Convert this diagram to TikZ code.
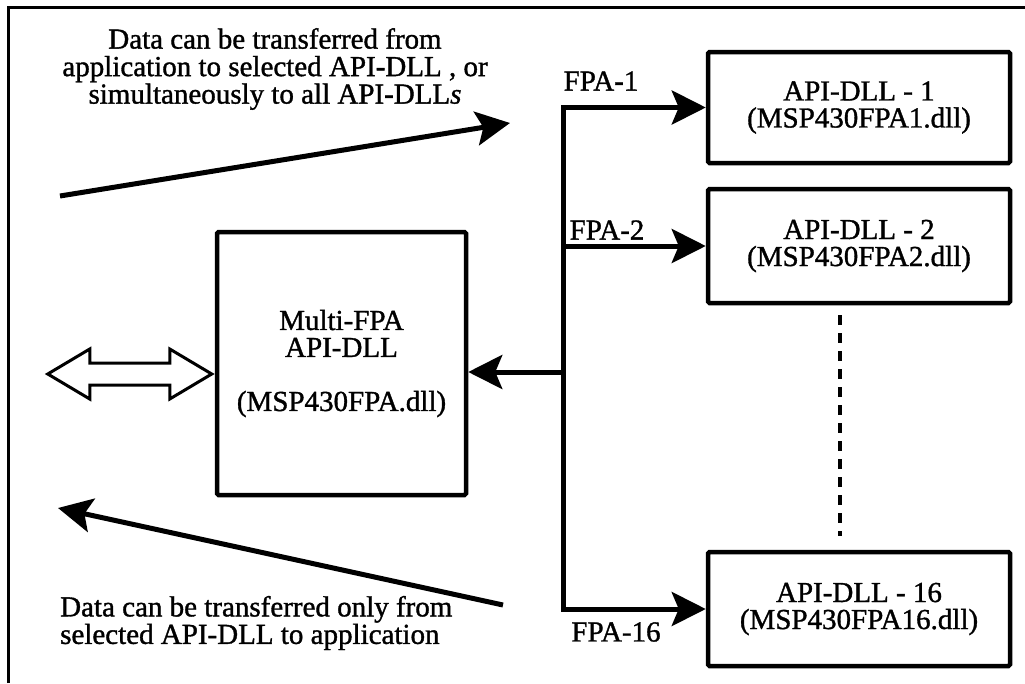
\documentclass[tikz,border=0pt]{standalone}
\usepackage{fontspec}
\setmainfont{Liberation Serif}
\usetikzlibrary{arrows.meta,calc}
\begin{document}
\begin{tikzpicture}[x=1pt,y=-1pt,
  box/.style={draw, line width=4.5pt, rounded corners=1.5pt, inner sep=0pt,
    font=\fontsize{29}{27}\selectfont\addfontfeatures{FakeBold=1.2}, align=center},
  arr/.style={line width=5pt, line join=miter,
    -{Stealth[length=34pt,width=34pt,inset=7pt]}},
  lbl/.style={font=\fontsize{29}{27.5}\selectfont\addfontfeatures{FakeBold=1.2}, inner sep=0pt},
  hollow/.style={draw, line width=3pt, fill=white, line join=miter},
  dots/.style={line width=4pt, dash pattern=on 10pt off 8pt},
]
\useasboundingbox (0,0) rectangle (1025,683);
% frame
\draw[line width=3pt] (8,683) -- (8,7) -- (1025,7);

% boxes
\node[box, minimum width=302, minimum height=111] (b1) at (859,107.5)
  {API-DLL - 1\\(MSP430FPA1.dll)};
\node[box, minimum width=302, minimum height=114] (b2) at (859,246)
  {API-DLL - 2\\(MSP430FPA2.dll)};
\node[box, minimum width=302, minimum height=114] (b16) at (859,609)
  {API-DLL - 16\\(MSP430FPA16.dll)};
\node[box, minimum width=249, minimum height=263] (multi) at (341.5,363.5)
  {Multi-FPA\\API-DLL\\[27pt](MSP430FPA.dll)};

% bus and arrows
\coordinate (bx) at (563,0);
\draw[arr] (b16.west -| bx) |- (b1.west);
\draw[arr] (b1.west -| bx) |- (b16.west);
\draw[arr] (b2.west -| bx) -- (b2.west);
\coordinate (bm) at (563,372);
\draw[arr] (bm) -- (bm -| multi.east);

% dotted continuation
\coordinate (d0) at ($(b2.south)+(-19,10)$);
\coordinate (d1) at ($(b16.north)+(-19,-14)$);
\draw[dots] (d0) -- (d1);

% labels
\node[lbl] (f1) at (601,81) {FPA-1};
\node[lbl] (f2) at (607,230) {FPA-2};
\node[lbl] (f16) at (616,632) {FPA-16};

% hollow double arrow to application
\coordinate (hr) at ($(multi.west)+(-3,10.5)$);
\draw[hollow] (hr) -- ++(-42,-25) -- ++(0,14) -- ++(-80,0) -- ++(0,-14)
  -- ++(-42,25) -- ++(42,25) -- ++(0,-14) -- ++(80,0) -- ++(0,14) -- cycle;

% data flow arrows
\coordinate (u0) at (60,196);
\coordinate (u1) at (510,123);
\draw[arr] (u0) -- (u1);
\coordinate (l0) at (503,605);
\coordinate (l1) at (58,508);
\draw[arr] (l0) -- (l1);

% texts
\node[lbl, align=center] (t1) at (275,69)
  {Data can be transferred from\\application to selected API-DLL , or\\simultaneously to all API-DLL\textit{s}};
\node[lbl, align=left, anchor=west] (t2) at (60,623)
  {Data can be transferred only from\\selected API-DLL to application};
\end{tikzpicture}
\end{document}
